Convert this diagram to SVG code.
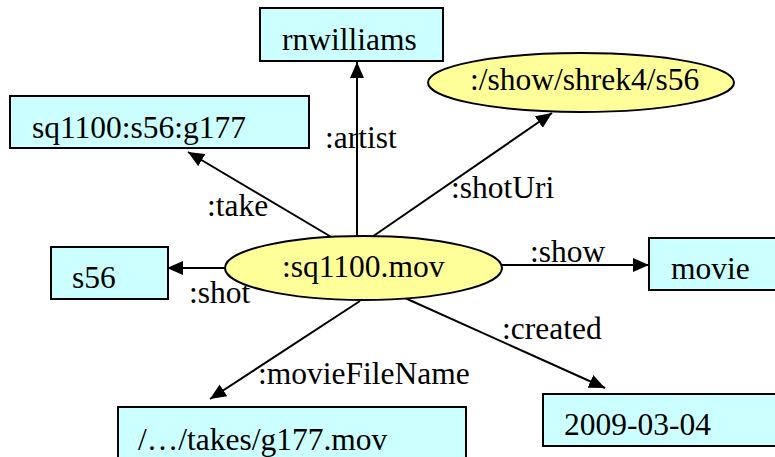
<svg xmlns="http://www.w3.org/2000/svg" width="775" height="457" viewBox="0 0 775 457" font-family="Liberation Serif, DejaVu Serif, serif" font-size="31.5">
<style>
.box{fill:#CCFFFF;stroke:#000;stroke-width:2}
.ell{fill:#FFFF99;stroke:#000;stroke-width:2}
.edge{stroke:#000;stroke-width:2;fill:none;marker-end:url(#ah)}
</style>
<defs>
<marker id="ah" markerUnits="userSpaceOnUse" markerWidth="18" markerHeight="14" refX="16" refY="7" orient="auto">
<path d="M0,0 L16,7 L0,14 Z" fill="#000"/>
</marker>
</defs>
<g id="connectors">
<line class="edge" x1="357" y1="236" x2="357" y2="62"/>
<line class="edge" x1="333" y1="238" x2="188" y2="152"/>
<line class="edge" x1="372" y1="237" x2="552" y2="113"/>
<line class="edge" x1="225" y1="268" x2="167" y2="268"/>
<line class="edge" x1="502" y1="265" x2="649" y2="265"/>
<line class="edge" x1="360" y1="301" x2="210" y2="399"/>
<line class="edge" x1="405" y1="298" x2="605" y2="388"/>
<text x="325" y="148">:artist</text>
<text x="207" y="216">:take</text>
<text x="451" y="198">:shotUri</text>
<text x="189" y="303">:shot</text>
<text x="530" y="262">:show</text>
<text x="502" y="339">:created</text>
<text x="258" y="384">:movieFileName</text>
</g>
<g id="rnwilliams">
<rect class="box" x="260" y="8" width="183" height="53"/>
<text x="282" y="50">rnwilliams</text>
</g>
<g id="take">
<rect class="box" x="10" y="96" width="299" height="52"/>
<text x="32" y="138">sq1100:s56:g177</text>
</g>
<g id="shotUri">
<ellipse class="ell" cx="581" cy="82.5" rx="153" ry="29.5"/>
<text x="470" y="90">:/show/shrek4/s56</text>
</g>
<g id="center">
<ellipse class="ell" cx="363.5" cy="268" rx="138.5" ry="32"/>
<text x="282" y="277">:sq1100.mov</text>
</g>
<g id="s56">
<rect class="box" x="51" y="247" width="117" height="52"/>
<text x="72" y="288">s56</text>
</g>
<g id="movie">
<rect class="box" x="649" y="238" width="130" height="52"/>
<text x="671" y="279">movie</text>
</g>
<g id="filename">
<rect class="box" x="118" y="407" width="348" height="60"/>
<text x="138" y="450">/…/takes/g177.mov</text>
</g>
<g id="created">
<rect class="box" x="543" y="394" width="240" height="52"/>
<text x="564" y="435">2009-03-04</text>
</g>
</svg>
